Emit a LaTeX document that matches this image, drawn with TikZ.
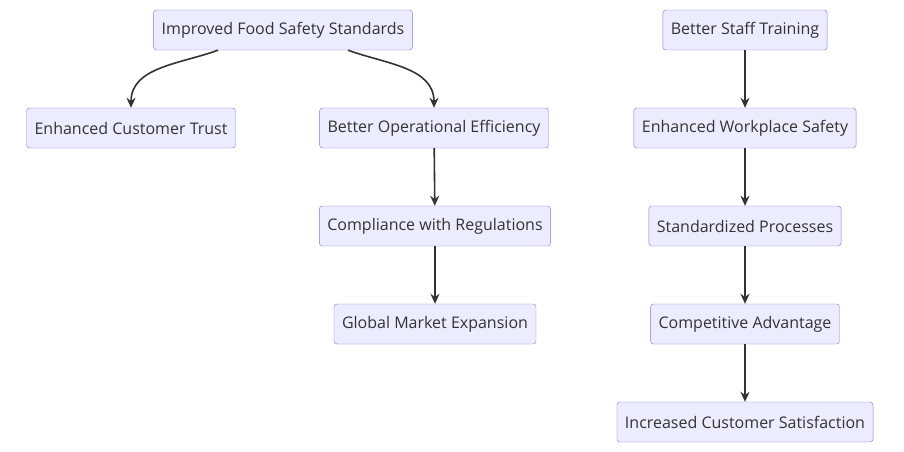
\documentclass[tikz,border=0pt]{standalone}
\usepackage{fontspec}
\setmainfont{Open Sans}
\usetikzlibrary{arrows.meta}
\definecolor{boxfill}{HTML}{ECECFF}
\definecolor{boxline}{HTML}{9370DB}
\definecolor{arrline}{HTML}{333333}
\begin{document}
\begin{tikzpicture}
  [x=1pt,y=-1pt,every node/.style={draw=boxline,fill=boxfill,rounded corners=3pt,
   minimum height=40pt,inner xsep=8pt,font=\fontsize{16}{19}\selectfont,text=arrline}]
  \tikzstyle{link} = [draw=arrline,line width=1.6pt,-{Stealth[length=10pt,width=9pt]}]
  \useasboundingbox (0,0) rectangle (904,452);
  \node (n1) at (283,30)  {Improved Food Safety Standards};
  \node (n2) at (131,128) {Enhanced Customer Trust};
  \node (n3) at (434,128) {Better Operational Efficiency};
  \node (n4) at (435,226) {Compliance with Regulations};
  \node (n5) at (435,324) {Global Market Expansion};
  \node (n6) at (745,30)  {Better Staff Training};
  \node (n7) at (745,128) {Enhanced Workplace Safety};
  \node (n8) at (745,226) {Standardized Processes};
  \node (n9) at (745,324) {Competitive Advantage};
  \node (n10) at (745,422) {Increased Customer Satisfaction};

  \draw[link] ([xshift=-65pt]n1.south) to[out=-160,in=90] (n2.north);
  \draw[link] ([xshift=65pt]n1.south) to[out=-20,in=90] (n3.north);
\foreach \source /\dest in {n3/n4,n4/n5,n6/n7,n7/n8,n8/n9,n9/n10}
   \draw[link] (\source) -- (\dest);
\end{tikzpicture}
\end{document}
